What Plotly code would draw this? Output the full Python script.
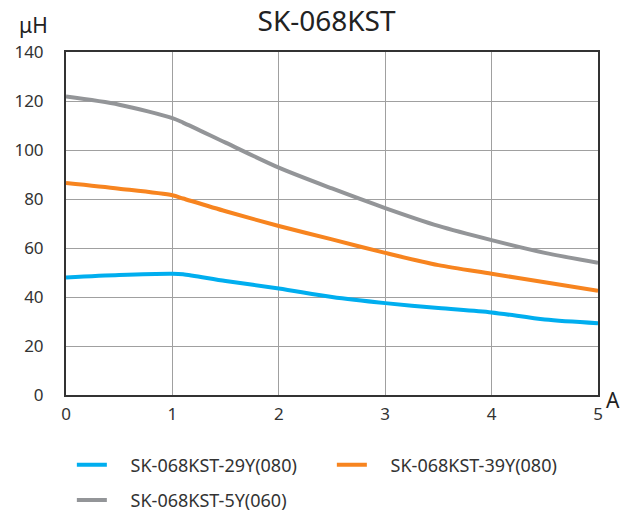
import plotly.graph_objects as go

x_vals = [0, 0.5, 1, 1.1, 1.5, 2, 2.5, 3, 3.5, 4, 4.5, 5]
blue_29y = [48, 49, 49.5, 49.3, 46.5, 43.5, 40, 37.5, 35.5, 33.7, 30.8, 29.3]
orange_39y = [86.5, 84.2, 81.5, 80.2, 75, 69, 63.5, 58, 53, 49.5, 46, 42.5]
gray_5y = [121.8, 118.5, 113, 111.2, 103, 92.8, 84.3, 76.3, 69, 63.2, 58, 54]

names = ["SK-068KST-29Y(080)", "SK-068KST-39Y(080)", "SK-068KST-5Y(060)"]
colors = ["#00aeef", "#f7841f", "#939598"]
x_ticks = [0, 1, 2, 3, 4, 5]
y_ticks = [0, 20, 40, 60, 80, 100, 120, 140]

FONT = "Noto Sans, Liberation Sans, Arial, sans-serif"
TXT = "#333333"
PAD = "\u00a0" * 4  # pushes legend text right, as the reference has longer line samples

fig = go.Figure()
for ys, nm, col, lg in zip([blue_29y, orange_39y, gray_5y], names, colors,
                           ["legend", "legend", "legend2"]):
    fig.add_trace(go.Scatter(x=x_vals, y=ys, mode="lines", name=PAD + nm,
                             line=dict(color=col, width=4, shape="spline", smoothing=0.8),
                             legend=lg))

fig.update_layout(
    width=622, height=512,
    margin=dict(l=66, r=24, t=52, b=117, autoexpand=False),
    paper_bgcolor="white", plot_bgcolor="white",
    font=dict(family=FONT, color=TXT, size=18),
    title=dict(text="SK-068KST", xref="container", x=0.525, xanchor="center",
               yref="container", y=0.959, yanchor="middle",
               font=dict(size=28, color="#222222", family=FONT)),
    showlegend=True,
    legend=dict(orientation="h", x=0.011, xanchor="left", y=-0.204, yanchor="middle",
                entrywidth=215, entrywidthmode="pixels",
                font=dict(size=18, color=TXT, family=FONT), bgcolor="rgba(0,0,0,0)"),
    legend2=dict(orientation="h", x=0.011, xanchor="left", y=-0.307, yanchor="middle",
                 font=dict(size=18, color=TXT, family=FONT), bgcolor="rgba(0,0,0,0)"),
)
fig.update_xaxes(range=[0, 5], tickvals=x_ticks, showgrid=True, gridcolor="#a0a0a0", gridwidth=1,
                 showline=True, linecolor="#333333", linewidth=2, mirror=True,
                 ticks="", ticklabelstandoff=3, zeroline=False, automargin=False,
                 tickfont=dict(size=17, color=TXT, family=FONT))
fig.update_yaxes(range=[0, 140], tickvals=y_ticks, showgrid=True, gridcolor="#a0a0a0", gridwidth=1,
                 showline=True, linecolor="#333333", linewidth=2, mirror=True,
                 ticks="", ticklabelstandoff=17, zeroline=False, automargin=False,
                 tickfont=dict(size=17, color=TXT, family=FONT))

fig.add_annotation(text="μH", xref="paper", yref="paper", x=-0.062, y=1.079,
                   xanchor="center", yanchor="middle", showarrow=False,
                   font=dict(size=21, color="#222222", family=FONT))
fig.add_annotation(text="A", xref="paper", yref="paper", x=1.043, y=-0.014,
                   xanchor="right", yanchor="middle", showarrow=False, borderpad=0,
                   font=dict(size=21, color="#222222", family=FONT))

# remove the default 8px page margin so the 622x512 figure fills the window exactly
fig.write_html("out.html", config={"displayModeBar": False},
               post_script="document.body.style.margin='0';document.body.style.overflow='hidden';")
